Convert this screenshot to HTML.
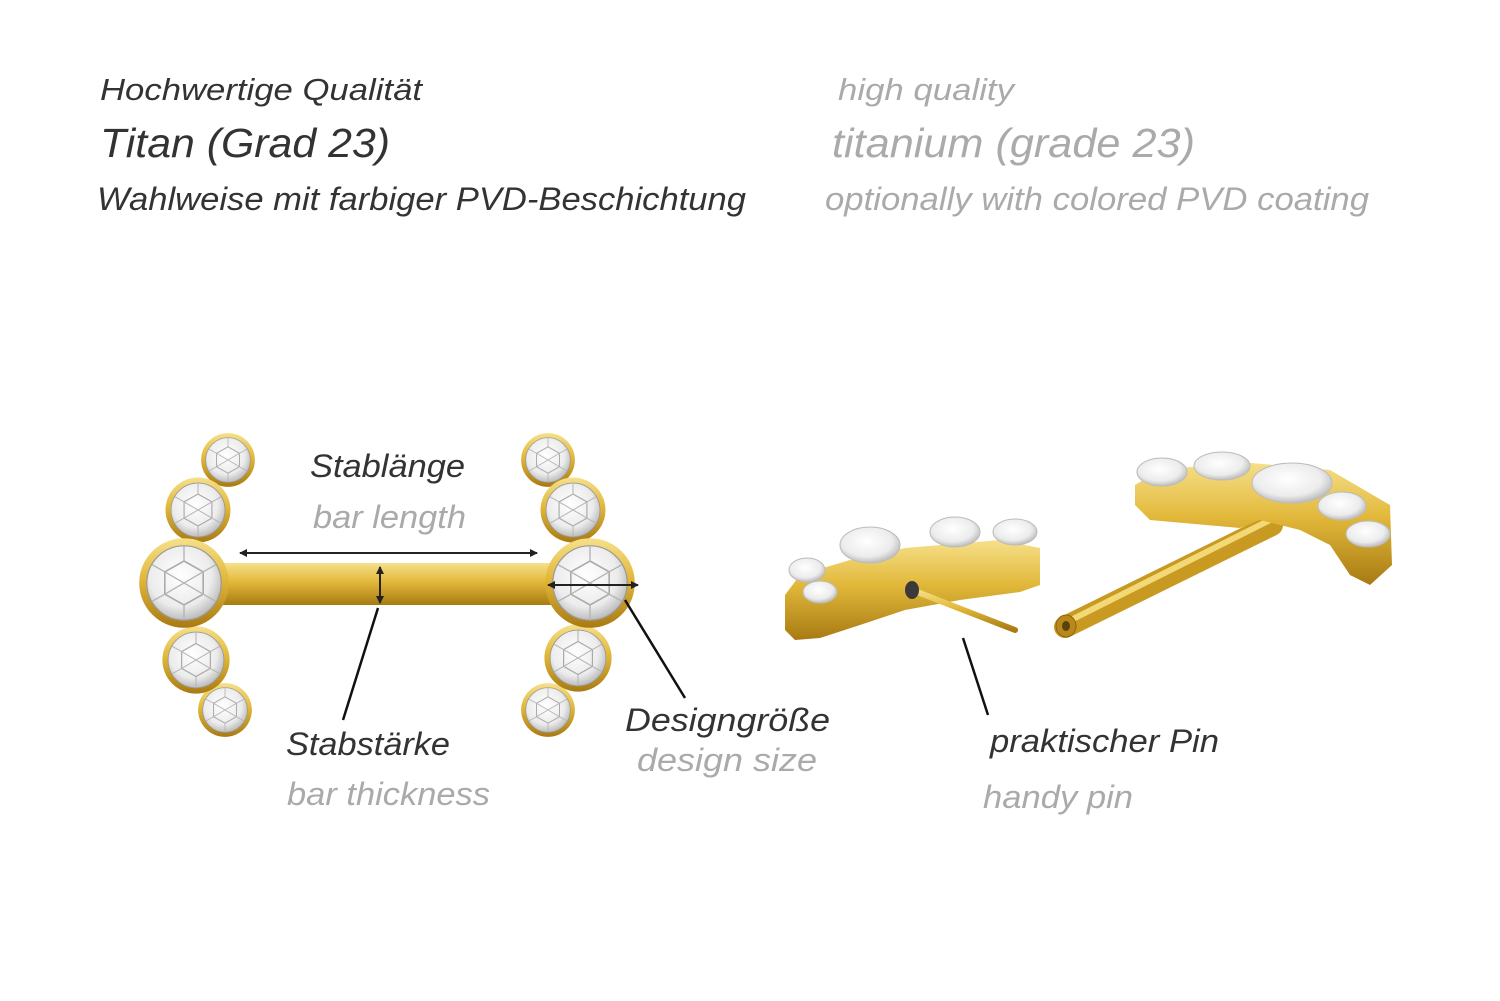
<!DOCTYPE html>
<html><head><meta charset="utf-8"><style>
html,body{margin:0;padding:0;background:#fff;}
svg{display:block;}
text{font-family:"Liberation Sans",sans-serif;font-style:italic;}
.d{fill:#333;}
.g{fill:#aaa;}
</style></head><body>
<svg width="1500" height="1001" viewBox="0 0 1500 1001" xmlns="http://www.w3.org/2000/svg">
<defs>
<linearGradient id="gold" x1="0" y1="0" x2="0" y2="1">
<stop offset="0" stop-color="#f6e08a"/><stop offset="0.45" stop-color="#e2b83a"/><stop offset="1" stop-color="#a87a12"/>
</linearGradient>
<radialGradient id="gem" cx="0.45" cy="0.4" r="0.6">
<stop offset="0" stop-color="#ffffff"/><stop offset="0.7" stop-color="#ececec"/><stop offset="1" stop-color="#bdbdbd"/>
</radialGradient>
<g id="gm">
<circle r="1.12" fill="url(#gold)"/>
<circle r="0.93" fill="url(#gem)" stroke="#999" stroke-width="0.03"/>
<polygon points="0,-0.55 0.48,-0.28 0.48,0.28 0,0.55 -0.48,0.28 -0.48,-0.28" fill="none" stroke="#aaa" stroke-width="0.04"/>
<path d="M0,-0.93L0,-0.55M0.8,-0.46L0.48,-0.28M0.8,0.46L0.48,0.28M0,0.93L0,0.55M-0.8,0.46L-0.48,0.28M-0.8,-0.46L-0.48,-0.28M-0.48,-0.28L0.48,0.28M0.48,-0.28L-0.48,0.28" stroke="#b5b5b5" stroke-width="0.035"/>
</g>
<marker id="ah" markerWidth="8" markerHeight="8" refX="7" refY="4" orient="auto-start-reverse" markerUnits="userSpaceOnUse"><path d="M0,0L8,4L0,8z" fill="#222"/></marker>
</defs>

<text class="d" x="100" y="100" font-size="31" textLength="322" lengthAdjust="spacingAndGlyphs">Hochwertige Qualität</text>
<text class="d" x="100" y="157" font-size="41" textLength="290" lengthAdjust="spacingAndGlyphs">Titan (Grad 23)</text>
<text class="d" x="97" y="210" font-size="32" textLength="649" lengthAdjust="spacingAndGlyphs">Wahlweise mit farbiger PVD-Beschichtung</text>
<text class="g" x="838" y="100" font-size="31" textLength="176" lengthAdjust="spacingAndGlyphs">high quality</text>
<text class="g" x="832" y="157" font-size="41" textLength="363" lengthAdjust="spacingAndGlyphs">titanium (grade 23)</text>
<text class="g" x="825" y="210" font-size="32" textLength="544" lengthAdjust="spacingAndGlyphs">optionally with colored PVD coating</text>

<!-- left barbell -->
<rect x="215" y="563" width="345" height="42" rx="6" fill="url(#gold)"/>
<use href="#gm" transform="translate(228,460) scale(24)"/>
<use href="#gm" transform="translate(198,510) scale(29)"/>
<use href="#gm" transform="translate(225,710) scale(24)"/>
<use href="#gm" transform="translate(196,660) scale(30)"/>
<use href="#gm" transform="translate(184,583) scale(40)"/>
<use href="#gm" transform="translate(548,460) scale(24)"/>
<use href="#gm" transform="translate(573,510) scale(29)"/>
<use href="#gm" transform="translate(548,710) scale(24)"/>
<use href="#gm" transform="translate(578,658) scale(30)"/>
<use href="#gm" transform="translate(590,583) scale(40)"/>

<line x1="240" y1="553" x2="537" y2="553" stroke="#222" stroke-width="2" marker-start="url(#ah)" marker-end="url(#ah)"/>
<line x1="380" y1="567" x2="380" y2="603" stroke="#222" stroke-width="2" marker-start="url(#ah)" marker-end="url(#ah)"/>
<line x1="548" y1="585" x2="638" y2="585" stroke="#222" stroke-width="2" marker-start="url(#ah)" marker-end="url(#ah)"/>
<line x1="378" y1="608" x2="343" y2="720" stroke="#111" stroke-width="2.5"/>
<line x1="625" y1="600" x2="685" y2="698" stroke="#111" stroke-width="2.5"/>
<line x1="963" y1="638" x2="988" y2="715" stroke="#111" stroke-width="2.5"/>

<text class="d" x="310" y="477" font-size="32" textLength="155" lengthAdjust="spacingAndGlyphs">Stablänge</text>
<text class="g" x="313" y="528" font-size="32" textLength="153" lengthAdjust="spacingAndGlyphs">bar length</text>
<text class="d" x="286" y="755" font-size="32" textLength="164" lengthAdjust="spacingAndGlyphs">Stabstärke</text>
<text class="g" x="287" y="805" font-size="32" textLength="203" lengthAdjust="spacingAndGlyphs">bar thickness</text>
<text class="d" x="625" y="731" font-size="32" textLength="205" lengthAdjust="spacingAndGlyphs">Designgröße</text>
<text class="g" x="637" y="771" font-size="32" textLength="180" lengthAdjust="spacingAndGlyphs">design size</text>
<text class="d" x="990" y="752" font-size="32" textLength="229" lengthAdjust="spacingAndGlyphs">praktischer Pin</text>
<text class="g" x="983" y="808" font-size="32" textLength="150" lengthAdjust="spacingAndGlyphs">handy pin</text>

<!-- right piece 1 (top with pin) -->
<path d="M785,595 L800,575 L850,560 L905,548 L1000,540 L1040,548 L1040,585 L1020,592 L960,600 L905,610 L860,625 L820,638 L795,640 L785,630 Z" fill="url(#gold)"/>
<ellipse cx="807" cy="570" rx="18" ry="12" fill="url(#gem)" stroke="#bbb"/>
<ellipse cx="820" cy="592" rx="17" ry="11" fill="url(#gem)" stroke="#bbb"/>
<ellipse cx="870" cy="545" rx="30" ry="18" fill="url(#gem)" stroke="#bbb"/>
<ellipse cx="955" cy="532" rx="25" ry="15" fill="url(#gem)" stroke="#bbb"/>
<ellipse cx="1015" cy="532" rx="22" ry="13" fill="url(#gem)" stroke="#bbb"/>
<line x1="912" y1="590" x2="1015" y2="630" stroke="url(#gold)" stroke-width="6" stroke-linecap="round"/>
<ellipse cx="912" cy="590" rx="7" ry="9" fill="#3a3a3a"/>

<!-- right piece 2 (bottom with pin) -->
<line x1="1065" y1="627" x2="1272" y2="525" stroke="#c99a22" stroke-width="22" stroke-linecap="round"/>
<line x1="1065" y1="623" x2="1270" y2="520" stroke="#f3d877" stroke-width="6" stroke-linecap="round"/>
<ellipse cx="1066" cy="626" rx="10" ry="11" fill="#b8891a" stroke="#8a650e"/>
<ellipse cx="1066" cy="626" rx="4" ry="5" fill="#5a430a"/>
<path d="M1135,485 L1160,470 L1240,462 L1330,470 L1390,505 L1392,565 L1370,585 L1350,575 L1330,545 L1300,530 L1260,520 L1240,528 L1150,520 L1135,505 Z" fill="url(#gold)"/>
<ellipse cx="1162" cy="472" rx="25" ry="14" fill="url(#gem)" stroke="#bbb"/>
<ellipse cx="1222" cy="466" rx="28" ry="14" fill="url(#gem)" stroke="#bbb"/>
<ellipse cx="1292" cy="483" rx="40" ry="20" fill="url(#gem)" stroke="#bbb"/>
<ellipse cx="1342" cy="506" rx="24" ry="14" fill="url(#gem)" stroke="#bbb"/>
<ellipse cx="1368" cy="534" rx="22" ry="13" fill="url(#gem)" stroke="#bbb"/>
</svg>
</body></html>
